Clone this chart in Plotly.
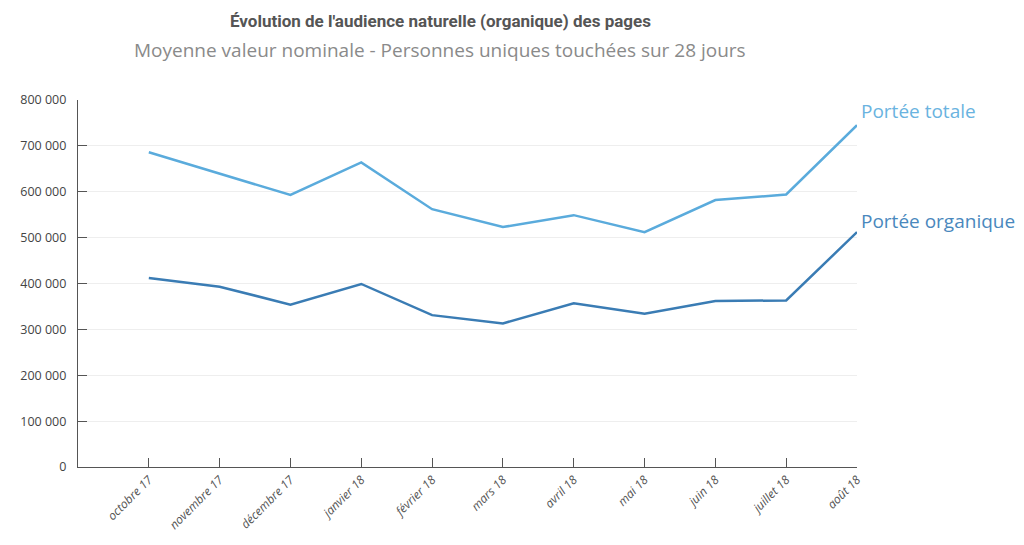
import plotly.graph_objects as go

mois = ["octobre 17", "novembre 17", "décembre 17", "janvier 18", "février 18", "mars 18",
        "avril 18", "mai 18", "juin 18", "juillet 18", "août 18"]
portee_totale = [686000, 640000, 593000, 664000, 562000, 523000, 549000, 512000, 582000, 594000, 745000]
portee_organique = [412000, 393000, 354000, 399000, 331000, 313000, 357000, 334000, 362000, 363000, 512000]
y_ticks = [0, 100000, 200000, 300000, 400000, 500000, 600000, 700000, 800000]

c_tot = "#5aabdc"
c_org = "#3a7cb4"

x_idx = list(range(len(mois)))

fig = go.Figure()
fig.add_trace(go.Scatter(x=x_idx, y=portee_totale, mode="lines", line=dict(color=c_tot, width=2.5),
                         name="Portée totale", hoverinfo="y"))
fig.add_trace(go.Scatter(x=x_idx, y=portee_organique, mode="lines", line=dict(color=c_org, width=2.5),
                         name="Portée organique", hoverinfo="y"))

fig.add_annotation(x=x_idx[-1], y=portee_totale[-1], text="Portée totale", xref="x", yref="y",
                   showarrow=False, xanchor="left", yanchor="middle", xshift=2, yshift=14,
                   font=dict(family="Open Sans", size=19, color="#6ab3e0"))
fig.add_annotation(x=x_idx[-1], y=portee_organique[-1], text="Portée organique", xref="x", yref="y",
                   showarrow=False, xanchor="left", yanchor="middle", xshift=2, yshift=11,
                   font=dict(family="Open Sans", size=19, color="#4a88bd"))
fig.add_annotation(x=0.4647, y=1.0, xref="paper", yref="paper", yshift=79,
                   text="<b>Évolution de l'audience naturelle (organique) des pages</b>",
                   showarrow=False, yanchor="middle",
                   font=dict(family="Roboto", size=17, color="#555555"))
fig.add_annotation(x=0.4647, y=1.0, xref="paper", yref="paper", yshift=50,
                   text="Moyenne valeur nominale - Personnes uniques touchées sur 28 jours",
                   showarrow=False, yanchor="middle",
                   font=dict(family="Open Sans", size=19, color="#8a8a8a"))

fig.update_layout(
    width=1024, height=545,
    margin=dict(l=70, r=175, t=92, b=86),
    paper_bgcolor="white", plot_bgcolor="white",
    showlegend=False,
    separators=", ",
)

fig.update_xaxes(
    range=[-1, 10], tickvals=x_idx, ticktext=mois, tickangle=-45,
    showline=True, linecolor="#555555", linewidth=1.2,
    ticks="inside", ticklen=9, tickcolor="#555555", showgrid=False, zeroline=False,
    tickfont=dict(family="Open Sans", size=12, color="#555555", style="italic"),
)
fig.update_yaxes(
    range=[0, 800000], tickvals=y_ticks, tickformat=",.0f",
    showline=True, linecolor="#555555", linewidth=1.2,
    ticks="inside", ticklen=9, tickcolor="#555555",
    showgrid=True, gridcolor="#eeeeee", zeroline=False,
    ticklabelstandoff=8,
    tickfont=dict(family="Open Sans", size=12.5, color="#444444"),
)

fig.write_html("out.html")
